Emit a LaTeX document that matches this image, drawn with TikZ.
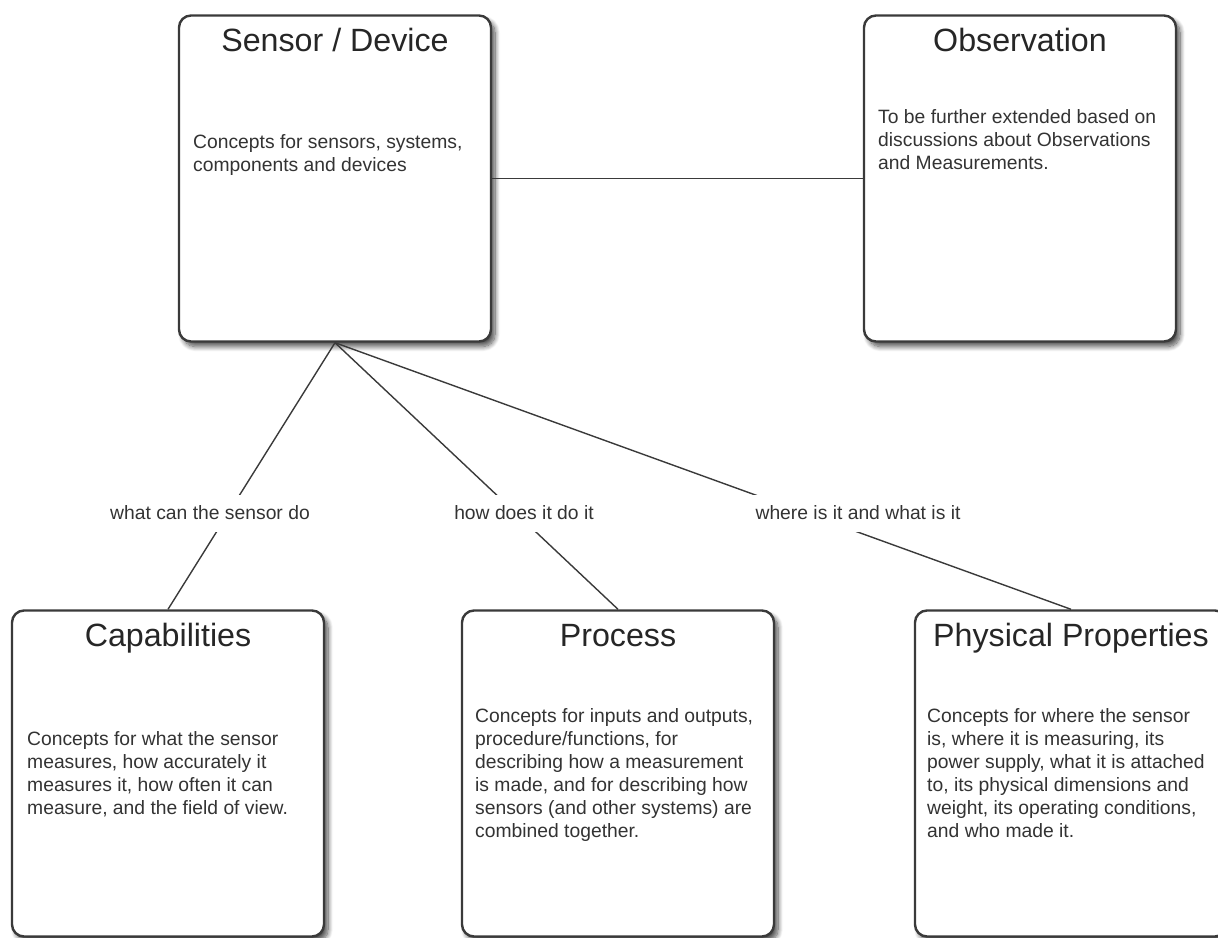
\documentclass[tikz,border=0pt]{standalone}
\usepackage{fontspec}
\setmainfont{Liberation Sans}
\usetikzlibrary{shadows.blur}

\definecolor{edgegray}{HTML}{3A3A3A}
\definecolor{textgray}{HTML}{333333}

\tikzset{
  box/.style={draw=edgegray, line width=2.4pt, rounded corners=12pt, fill=white,
    minimum width=312pt, minimum height=326pt, inner sep=0pt,
    blur shadow={shadow xshift=4pt, shadow yshift=-5pt, shadow blur radius=5pt,
      shadow blur steps=10, shadow opacity=70}},
  ttl/.style={anchor=base, inner sep=0pt, text=black!85,
    font=\fontsize{32.2}{36}\selectfont},
  body/.style={anchor=north west, inner sep=0pt, align=left, text=textgray,
    font=\fontsize{19.3}{23}\selectfont},
  lbl/.style={fill=white, inner xsep=14pt, minimum height=37pt, text=textgray,
    font=\fontsize{19.3}{23}\selectfont},
  link/.style={draw=edgegray, line width=1.4pt}
}

\begin{document}
\begin{tikzpicture}[x=1pt, y=1pt]
\useasboundingbox (0,0) rectangle (1218,-937);
\node[box] (sensor) at (335,-178.5) {};
\node[box] (obs) at (1020,-178.5) {};
\node[box] (caps) at (168,-773.5) {};
\node[box] (proc) at (618,-773.5) {};
\node[box] (phys) at (1071,-773.5) {};
\draw[link] (sensor.east) -- (obs.west);
\draw[link] (sensor.south) -- (caps.north);
\draw[link] (sensor.south) -- (proc.north);
\draw[link] (sensor.south) -- (phys.north);
\node[lbl] (lcaps) at (210,-513) {what can the sensor do};
\node[lbl] (lproc) at (524,-513) {how does it do it};
\node[lbl] (lphys) at (858,-513) {where is it and what is it};
\node[ttl] (sensor-t) at ([yshift=-37pt]sensor.north) {Sensor / Device};
\node[ttl] (obs-t) at ([yshift=-37pt]obs.north) {Observation};
\node[ttl] (caps-t) at ([yshift=-37pt]caps.north) {Capabilities};
\node[ttl] (proc-t) at ([yshift=-37pt]proc.north) {Process};
\node[ttl] (phys-t) at ([yshift=-37pt]phys.north) {Physical Properties};
\node[body] (sensor-b) at (193,-134) {Concepts for sensors, systems,\\components and devices};
\node[body] (obs-b) at (878,-109) {To be further extended based on\\discussions about Observations\\and Measurements.};
\node[body] (caps-b) at (27,-731) {Concepts for what the sensor\\measures, how accurately it\\measures it, how often it can\\measure, and the field of view.};
\node[body] (proc-b) at (475,-708) {Concepts for inputs and outputs,\\procedure/functions, for\\describing how a measurement\\is made, and for describing how\\sensors (and other systems) are\\combined together.};
\node[body] (phys-b) at (927,-708) {Concepts for where the sensor\\is, where it is measuring, its\\power supply, what it is attached\\to, its physical dimensions and\\weight, its operating conditions,\\and who made it.};
\end{tikzpicture}
\end{document}
